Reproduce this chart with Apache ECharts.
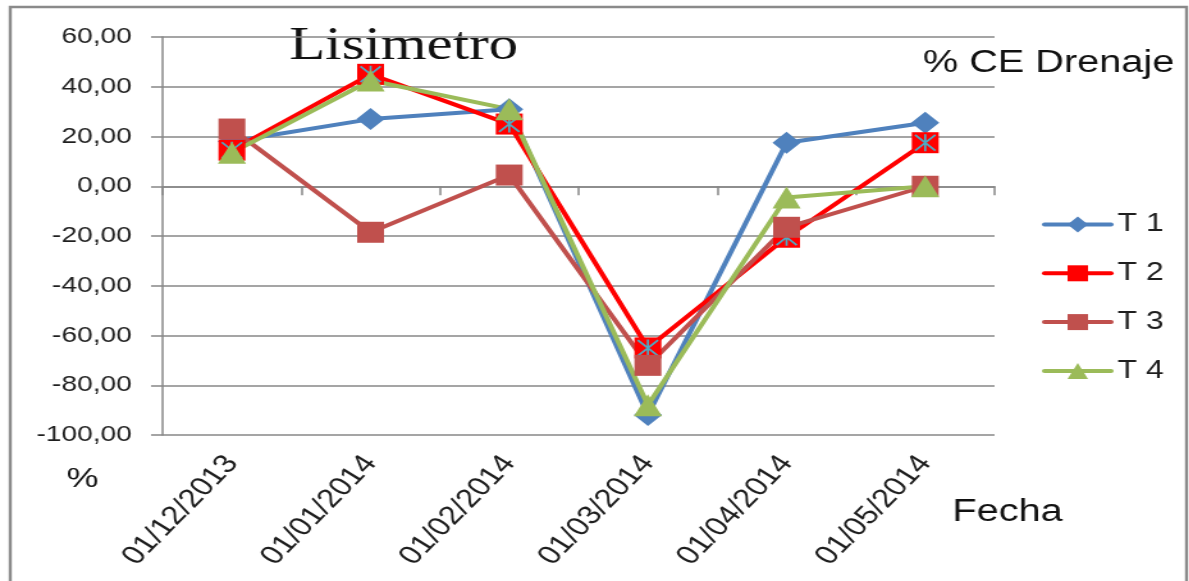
<!DOCTYPE html>
<html>
<head>
<meta charset="utf-8">
<script src="https://cdn.jsdelivr.net/npm/echarts@6/dist/echarts.min.js"></script>
<style>
  html, body { margin: 0; padding: 0; background: #fff; overflow: hidden; }
  /* the chart is laid out on a narrower canvas and widened to the page width */
  #chart { width: 929px; height: 581px; transform: scaleX(1.28); transform-origin: 0 0; }
</style>
</head>
<body>
<div id="chart"></div>
<script>
// Fechas de muestreo
const categories = ['01/12/2013', '01/01/2014', '01/02/2014', '01/03/2014', '01/04/2014', '01/05/2014'];

// % CE drenaje por tratamiento
const t1 = [18, 27, 31, -92, 17.5, 25.5];
const t2 = [14.5, 45, 25, -65, -20.5, 17.5];
const t3 = [23, -18.5, 4.5, -72, -16.5, 0];
const t4 = [13.5, 42.5, 31, -88, -4.5, 0];

// Escala vertical
const yMin = -100;
const yMax = 60;
const yStep = 20;

const SANS = '"Liberation Sans", Arial, sans-serif';
const SERIF = '"Liberation Serif", "Times New Roman", serif';
const GRID_GRAY = '#878787';
const TEXT = '#1e1e1e';

// asterisk drawn on top of the T 2 squares
const starPath = 'path://M9 0L11 0L11 20L9 20Z M0 1.4L1.4 0L20 18.6L18.6 20Z M18.6 0L20 1.4L1.4 20L0 18.6Z';

const chart = echarts.init(document.getElementById('chart'), null, { renderer: 'canvas' });

chart.setOption({
  animation: false,
  backgroundColor: '#fff',
  grid: { left: 127, right: 152, top: 37, bottom: 146, containLabel: false },
  graphic: [
    {
      type: 'rect', silent: true, z: -1,
      shape: { x: 8, y: 7, width: 919, height: 620 },
      style: { fill: 'none', stroke: '#8a8a8a', lineWidth: 2.4 }
    },
    {
      type: 'text', left: 226, top: 24,
      style: { text: 'Lisimetro', font: '46px ' + SERIF, fill: '#111' }
    },
    {
      type: 'text', left: 721, top: 48,
      style: { text: '% CE Drenaje', font: '31px ' + SANS, fill: '#111' }
    },
    {
      type: 'text', left: 52, top: 465,
      style: { text: '%', font: '28px ' + SANS, fill: '#111' }
    },
    {
      type: 'text', left: 744, top: 497,
      style: { text: 'Fecha', font: '31px ' + SANS, fill: '#111' }
    }
  ],
  legend: {
    orient: 'vertical',
    left: 809,
    top: 207,
    itemWidth: 52,
    itemHeight: 20,
    itemGap: 23.8,
    data: ['T 1', 'T 2', 'T 3', 'T 4'],
    lineStyle: { width: 4, cap: 'round' },
    textStyle: { fontFamily: SANS, fontSize: 25, color: TEXT }
  },
  xAxis: [
    {
      type: 'category',
      data: categories,
      boundaryGap: true,
      axisLine: { onZero: true, lineStyle: { color: GRID_GRAY, width: 1.5 } },
      axisTick: { show: true, length: 9, lineStyle: { color: GRID_GRAY, width: 1.5 } },
      axisLabel: { show: false },
      splitLine: { show: false }
    },
    {
      type: 'category',
      data: categories,
      position: 'bottom',
      boundaryGap: true,
      axisLine: { show: false, onZero: false },
      axisTick: { show: false },
      axisLabel: {
        show: true, rotate: 52, margin: 24, interval: 0,
        fontFamily: SANS, fontSize: 26, color: TEXT
      },
      splitLine: { show: false }
    }
  ],
  yAxis: {
    type: 'value',
    min: yMin,
    max: yMax,
    interval: yStep,
    axisLine: { show: true, lineStyle: { color: GRID_GRAY, width: 1.5 } },
    axisTick: { show: true, length: 9, lineStyle: { color: GRID_GRAY, width: 1.5 } },
    axisLabel: {
      margin: 24, fontFamily: SANS, fontSize: 22, color: TEXT,
      formatter: v => v.toFixed(2).replace('.', ',')
    },
    splitLine: { show: true, lineStyle: { color: GRID_GRAY, width: 1.5 } }
  },
  series: [
    {
      name: 'T 1', type: 'line', data: t1,
      symbol: 'diamond', symbolSize: 22,
      lineStyle: { color: '#4F81BD', width: 4 },
      itemStyle: { color: '#4F81BD' }
    },
    {
      name: 'T 2', type: 'line', data: t2,
      symbol: 'rect', symbolSize: 21,
      lineStyle: { color: '#FF0000', width: 4 },
      itemStyle: { color: '#FF0000' }
    },
    {
      name: 'T 2 *', type: 'scatter', data: t2, z: 3,
      xAxisIndex: 0, yAxisIndex: 0,
      symbol: starPath, symbolSize: 17,
      itemStyle: { color: '#4BACC6', opacity: 1 },
      silent: true
    },
    {
      name: 'T 3', type: 'line', data: t3,
      symbol: 'rect', symbolSize: 21,
      lineStyle: { color: '#C0504D', width: 4 },
      itemStyle: { color: '#C0504D' }
    },
    {
      name: 'T 4', type: 'line', data: t4,
      symbol: 'triangle', symbolSize: 22,
      lineStyle: { color: '#9BBB59', width: 4 },
      itemStyle: { color: '#9BBB59' }
    }
  ]
});
</script>
</body>
</html>
